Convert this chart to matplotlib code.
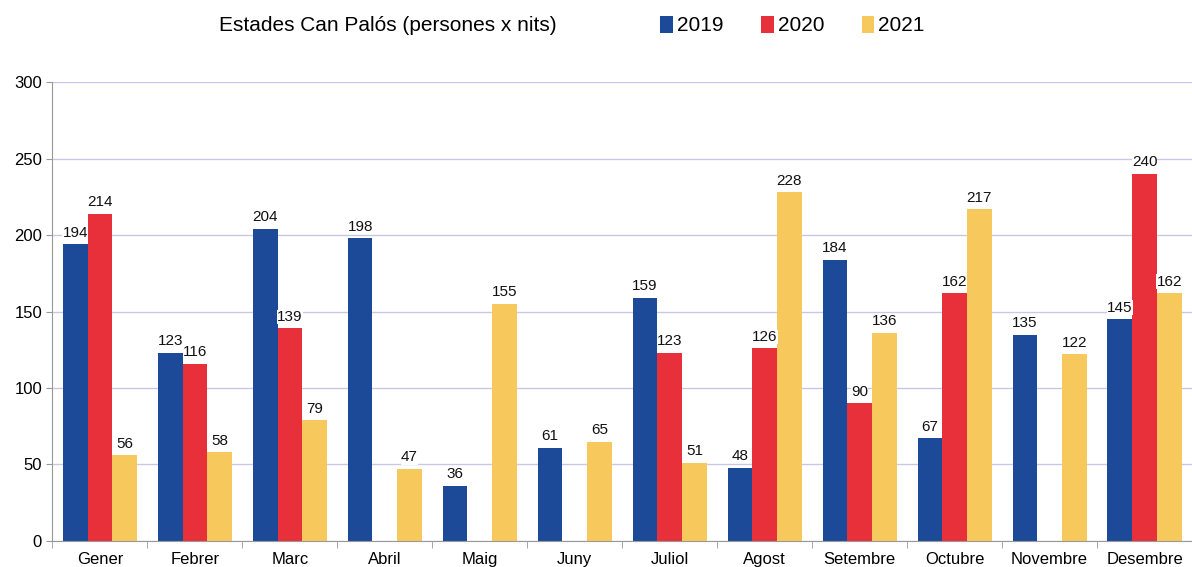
import numpy as np
import matplotlib
matplotlib.use("Agg")
import matplotlib.pyplot as plt

months = ["Gener", "Febrer", "Marc", "Abril", "Maig", "Juny", "Juliol",
          "Agost", "Setembre", "Octubre", "Novembre", "Desembre"]
years = ["2019", "2020", "2021"]
v2019 = [194, 123, 204, 198, 36, 61, 159, 48, 184, 67, 135, 145]
v2020 = [214, 116, 139, None, None, None, 123, 126, 90, 162, None, 240]
v2021 = [56, 58, 79, 47, 155, 65, 51, 228, 136, 217, 122, 162]
colors = ["#1d4a98", "#e8303a", "#f7c95c"]

plt.rcParams["font.family"] = ["Liberation Sans", "DejaVu Sans"]

fig = plt.figure(figsize=(11.92, 5.67), dpi=100)
ax = fig.add_axes([0.044, 0.046, 0.956, 0.809])

x = np.arange(len(months))
w = 0.26
handles = []
for i, (vals, c) in enumerate(zip([v2019, v2020, v2021], colors)):
    xs = x + (i - 1) * w
    h = [np.nan if v is None else v for v in vals]
    b = ax.bar(xs, h, width=w, color=c, zorder=2)
    handles.append(b)
    for xi, v in zip(xs, vals):
        if v is None:
            continue
        ax.text(xi, v + 3, str(v), ha="center", va="bottom", fontsize=11,
                color="#111111", zorder=3,
                bbox=dict(facecolor="white", edgecolor="none", pad=0.1))

ax.set_ylim(0, 300)
ax.set_yticks(range(0, 301, 50))
ax.set_xlim(-0.5, 11.4)
ax.set_xticks(x)
ax.set_xticklabels(months, fontsize=12)
ax.set_xticks(np.arange(-0.5, 12, 1), minor=True)
ax.tick_params(axis="x", which="major", length=0, pad=8)
ax.tick_params(axis="x", which="minor", length=5, color="#999999")
ax.tick_params(axis="y", labelsize=12, length=4, color="#999999")
ax.yaxis.grid(True, color="#c8c8e6", linewidth=1, zorder=0)
ax.set_axisbelow(True)
for s in ["top", "right"]:
    ax.spines[s].set_visible(False)
for s in ["left", "bottom"]:
    ax.spines[s].set_color("#999999")

fig.text(0.325, 0.955, "Estades Can Palós (persones x nits)", ha="center",
         va="center", fontsize=15)
fig.legend(handles, years, loc="center", bbox_to_anchor=(0.665, 0.955), ncol=3,
           frameon=False, fontsize=15, handlelength=0.6, handleheight=0.9,
           handletextpad=0.2, columnspacing=1.8)

fig.savefig("out.png", dpi=100)
